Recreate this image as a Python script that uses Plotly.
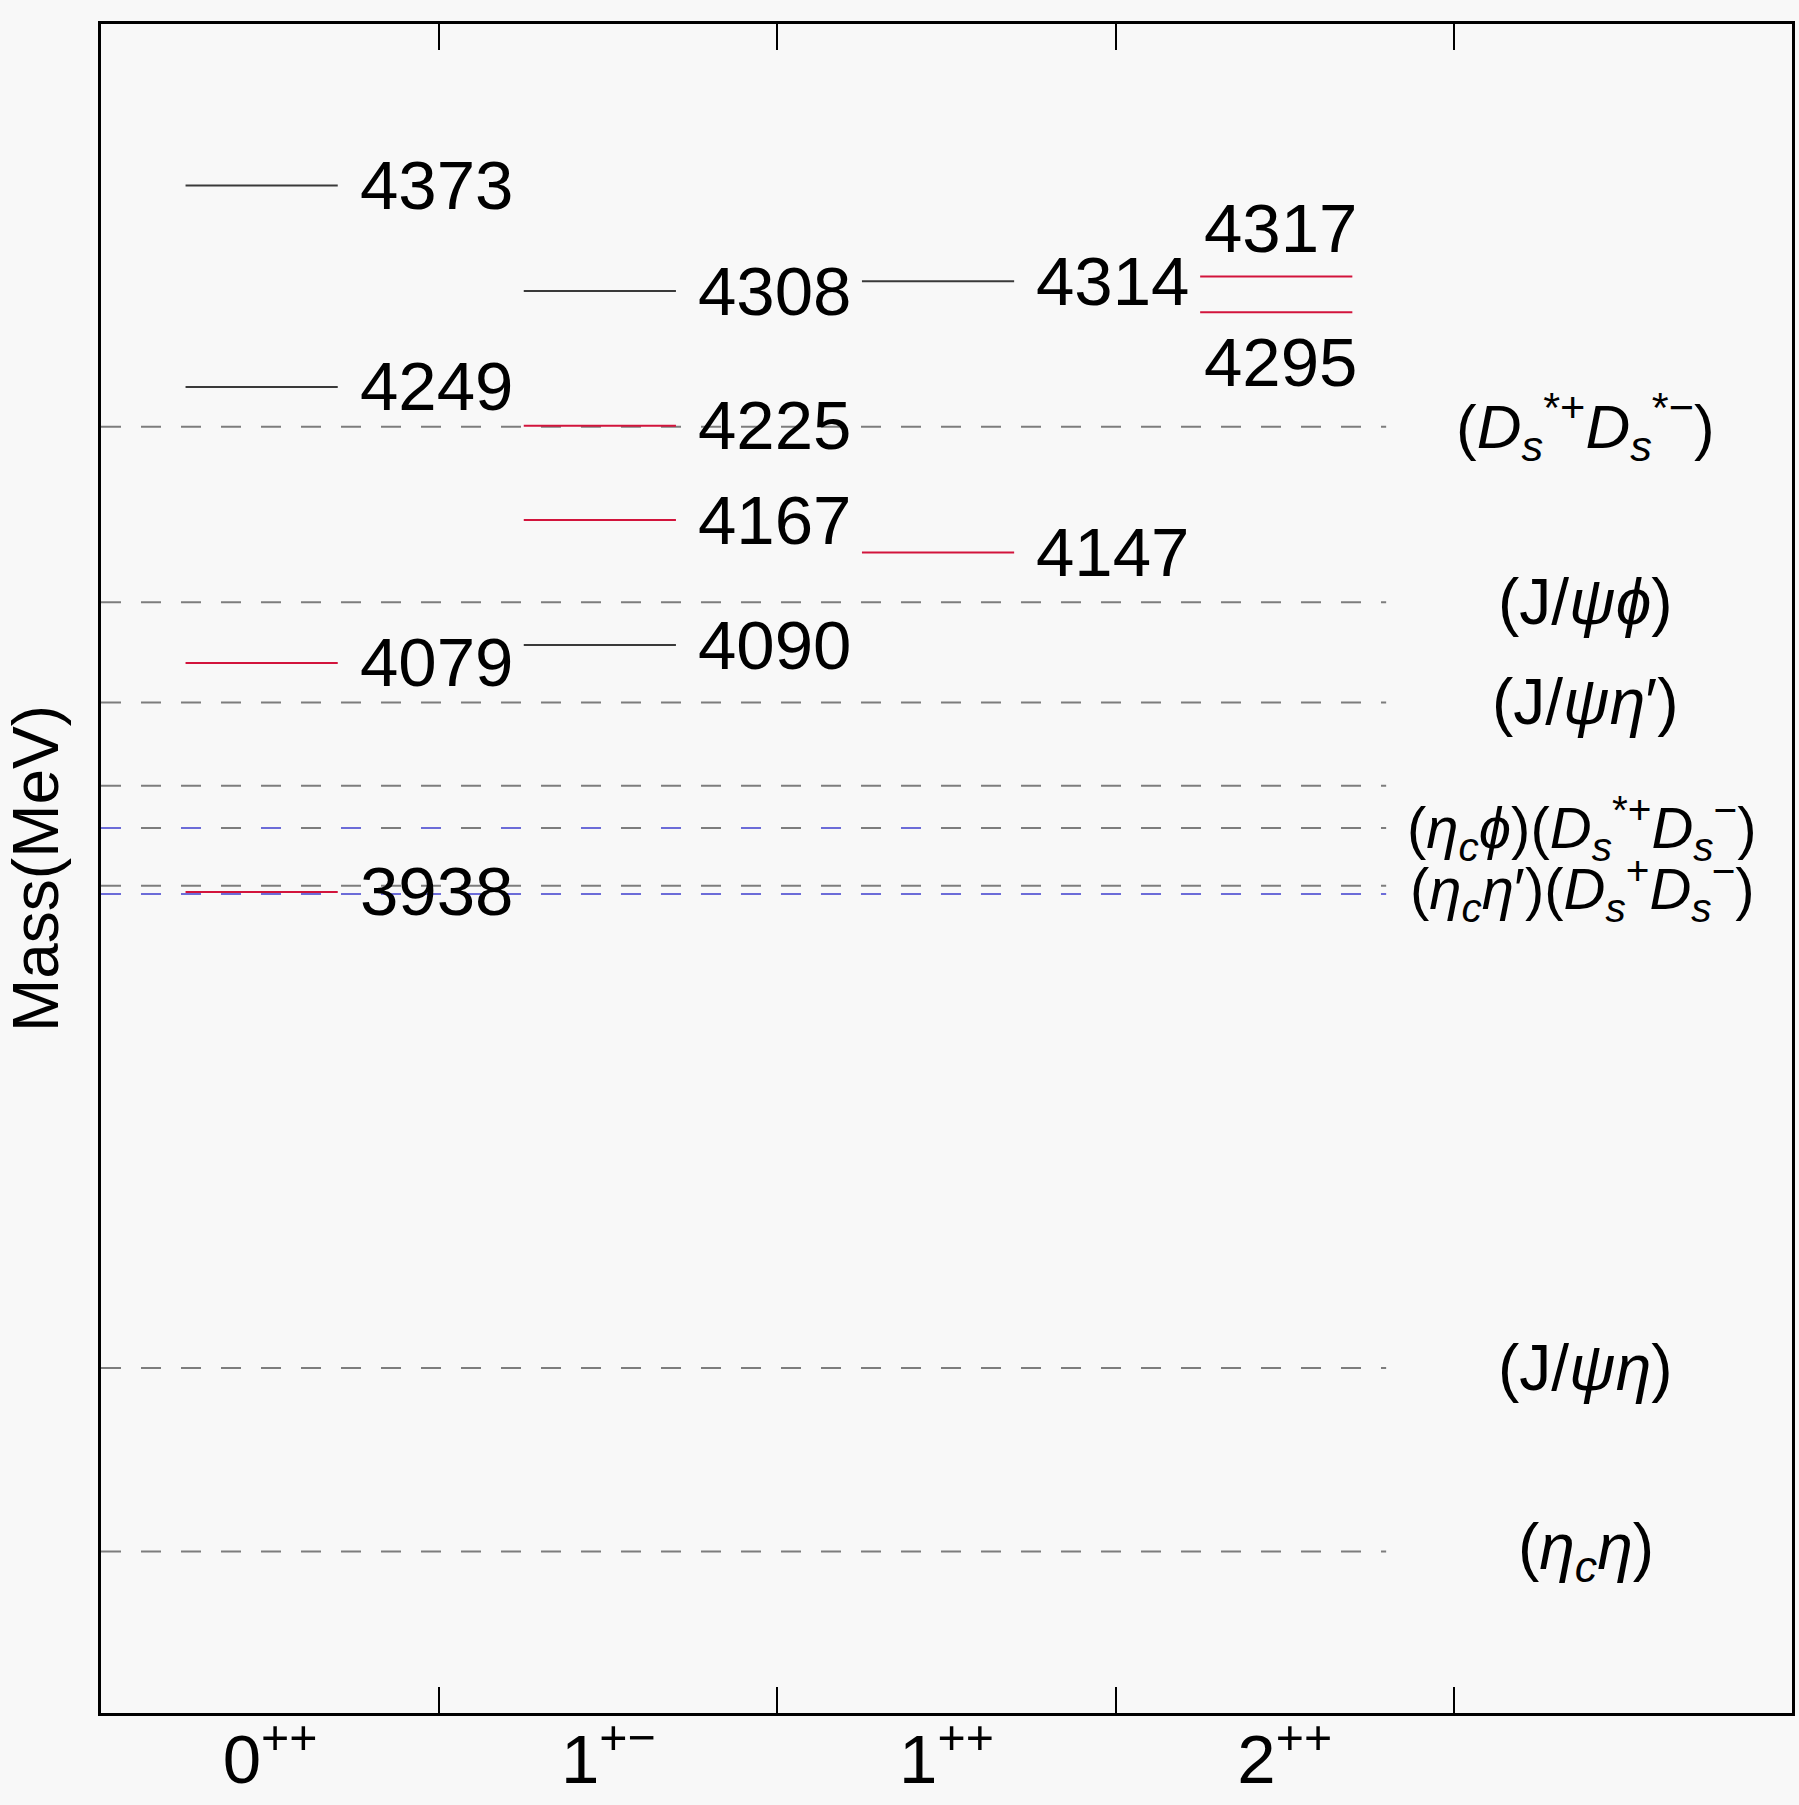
import plotly.graph_objects as go

# ---------------- data ----------------
jpc_labels = ["0<sup>++</sup>", "1<sup>+−</sup>", "1<sup>++</sup>", "2<sup>++</sup>"]

# calculated levels (MeV): category index + mass
black_cat = [0, 0, 1, 1, 2]
black_mass = [4373, 4249, 4308, 4090, 4314]
red_cat = [0, 0, 1, 1, 2, 3, 3]
red_mass = [4079, 3938, 4225, 4167, 4147, 4317, 4295]

# thresholds (MeV)
gray_thr_mass = [4224.4, 4116.4, 4054.7, 4003.4, 3977.3, 3941.7, 3644.8, 3531.8]
blue_thr_mass = [3977.3, 3936.7]

thr_labels = [
    "(<i>D</i><sub><i>s</i></sub><sup>*+</sup><i>D</i><sub><i>s</i></sub><sup>*−</sup>)",
    "(J/<i>ψϕ</i>)",
    "(J/<i>ψη</i>′)",
    "(<i>η</i><sub><i>c</i></sub><i>ϕ</i>)(<i>D</i><sub><i>s</i></sub><sup>*+</sup><i>D</i><sub><i>s</i></sub><sup>−</sup>)",
    "(<i>η</i><sub><i>c</i></sub><i>η</i>′)(<i>D</i><sub><i>s</i></sub><sup>+</sup><i>D</i><sub><i>s</i></sub><sup>−</sup>)",
    "(J/<i>ψη</i>)",
    "(<i>η</i><sub><i>c</i></sub><i>η</i>)",
]
thr_label_mass = [4224.4, 4116.4, 4054.7, 3977.3, 3939.2, 3644.8, 3531.8]

# ---------------- style ----------------
FONT = "Liberation Sans, Arial, sans-serif"
BG = "#f8f8f8"
RED = "#d2143c"
DARK = "#3a3a3a"
GRAY = "#7d7d7d"
BLUE = "#6c6cd8"
LINE_X0, LINE_X1 = 0.25, 0.70
THR_X1 = 3.8
NUM_SIZE = 69

fig = go.Figure()


def level_trace(cats, masses, color, xaxis="x"):
    xs, ys = [], []
    for c, m in zip(cats, masses):
        xs += [c + LINE_X0, c + LINE_X1, None]
        ys += [m, m, None]
    return go.Scatter(x=xs, y=ys, mode="lines", line=dict(color=color, width=2),
                      hoverinfo="skip", showlegend=False, xaxis=xaxis, yaxis="y")


def thr_trace(masses, color, dash, x1=THR_X1):
    xs, ys = [], []
    for m in masses:
        xs += [0, x1, None]
        ys += [m, m, None]
    return go.Scatter(x=xs, y=ys, mode="lines", line=dict(color=color, width=2, dash=dash),
                      hoverinfo="skip", showlegend=False)


# threshold lines
fig.add_trace(thr_trace(gray_thr_mass, GRAY, "20px,20px"))
fig.add_trace(thr_trace(blue_thr_mass[1:], BLUE, "20px,20px"))
fig.add_trace(thr_trace(blue_thr_mass[:1], BLUE, "20px,60px", x1=2.6))

# levels (red ones drawn on the overlaid category axis, same scale)
fig.add_trace(level_trace(black_cat, black_mass, DARK))
fig.add_trace(level_trace(red_cat, red_mass, RED, xaxis="x2"))

annotations = []
top_2pp = max(m for c, m in zip(red_cat, red_mass) if c == 3)
for cats, masses in ((black_cat, black_mass), (red_cat, red_mass)):
    for c, m in zip(cats, masses):
        if c == 3:
            annotations.append(dict(x=c + 0.49, y=m, xref="x", yref="y", text=str(m),
                                    showarrow=False, xanchor="center", yanchor="middle",
                                    yshift=48 if m == top_2pp else -50,
                                    font=dict(family=FONT, size=NUM_SIZE, color="black")))
        else:
            annotations.append(dict(x=c + 0.76, y=m, xref="x", yref="y", text=str(m),
                                    showarrow=False, xanchor="left", yanchor="middle",
                                    font=dict(family=FONT, size=NUM_SIZE, color="black")))

# threshold labels
for i, (t, m) in enumerate(zip(thr_labels, thr_label_mass)):
    long_label = i in (3, 4)
    size = 58 if long_label else (62 if i == 0 else 64)
    annotations.append(dict(x=4.38 if long_label else 4.39, y=m, xref="x", yref="y", text=t,
                            showarrow=False, xanchor="center", yanchor="middle",
                            font=dict(family=FONT, size=size, color="black")))

fig.update_layout(
    width=1799, height=1805,
    margin=dict(l=101, r=7, t=24, b=92, autoexpand=False),
    paper_bgcolor=BG, plot_bgcolor=BG,
    font=dict(family=FONT, color="black"),
    showlegend=False,
    annotations=annotations,
    xaxis=dict(range=[0, 5], showgrid=False, zeroline=False,
               showline=True, linecolor="black", linewidth=2.5, mirror="ticks",
               ticks="inside", ticklen=26, tickwidth=1.5, tickcolor="black",
               tickvals=[1, 2, 3, 4], showticklabels=False),
    xaxis2=dict(range=[0, 5], overlaying="x", anchor="y", side="bottom",
                showgrid=False, zeroline=False, showline=False, ticks="",
                tickvals=[0.5, 1.5, 2.5, 3.5], ticktext=jpc_labels,
                tickfont=dict(family=FONT, size=NUM_SIZE, color="black")),
    yaxis=dict(range=[3432.3, 4472.5], showgrid=False, zeroline=False,
               showline=True, linecolor="black", linewidth=2.5, mirror=True,
               ticks="", showticklabels=False,
               title=dict(text="Mass(MeV)", standoff=25,
                          font=dict(family=FONT, size=64, color="black"))),
)

fig.write_html("out.html", config={"displayModeBar": False},
               post_script="document.body.style.margin='0';document.body.style.overflow='hidden';")
